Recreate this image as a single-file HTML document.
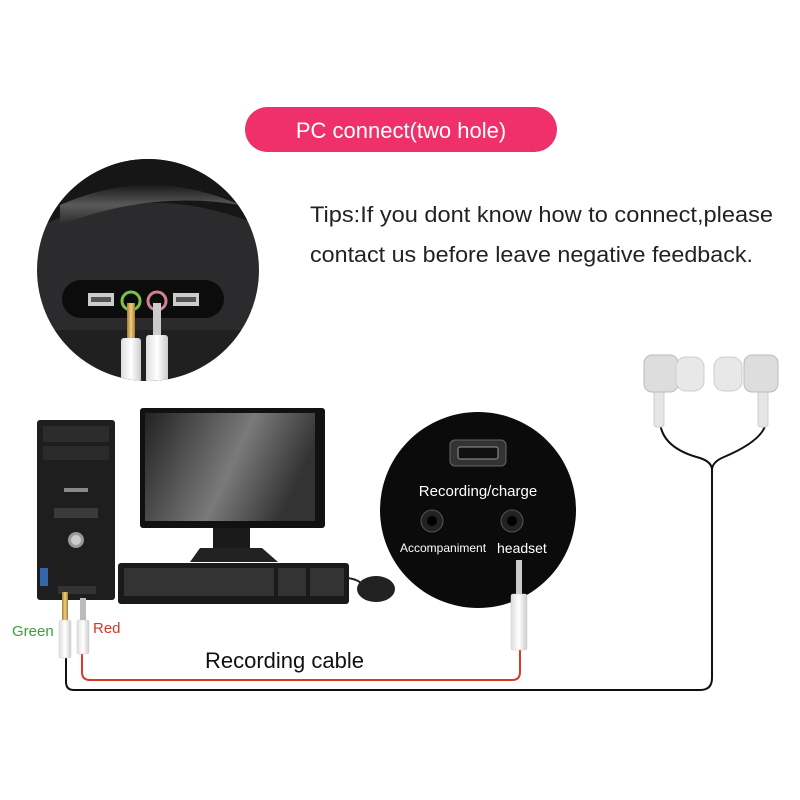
<!DOCTYPE html>
<html><head><meta charset="utf-8"><style>
html,body{margin:0;padding:0;background:#fff;}
svg{display:block;}
text{font-family:"Liberation Sans",sans-serif;}
</style></head><body>
<svg width="800" height="800" viewBox="0 0 800 800" xmlns="http://www.w3.org/2000/svg">
<defs>
<linearGradient id="scr" x1="0" y1="0" x2="1" y2="0.3"><stop offset="0" stop-color="#222"/><stop offset="0.6" stop-color="#7a7a7a"/><stop offset="1" stop-color="#333"/></linearGradient>
<clipPath id="cc"><circle cx="148" cy="270" r="111"/></clipPath>
<linearGradient id="plug" x1="0" x2="1"><stop offset="0" stop-color="#ddd"/><stop offset="0.5" stop-color="#fff"/><stop offset="1" stop-color="#ccc"/></linearGradient>
<linearGradient id="gold" x1="0" x2="1"><stop offset="0" stop-color="#a87a30"/><stop offset="0.5" stop-color="#f0d080"/><stop offset="1" stop-color="#a87a30"/></linearGradient>
<linearGradient id="band" x1="0" y1="0" x2="0" y2="1"><stop offset="0" stop-color="#1a1a1a"/><stop offset="0.5" stop-color="#5a5a5a"/><stop offset="1" stop-color="#2a2a2a"/></linearGradient>
</defs>
<rect width="800" height="800" fill="#fff"/>
<rect x="245" y="107" width="312" height="45" rx="22.5" fill="#f0306a"/>
<text x="401" y="138" font-size="22" fill="#fff" text-anchor="middle">PC connect(two hole)</text>
<text x="310" y="222" font-size="22" fill="#222" textLength="463" lengthAdjust="spacingAndGlyphs">Tips:If you dont know how to connect,please</text>
<text x="310" y="262" font-size="22" fill="#222" textLength="443" lengthAdjust="spacingAndGlyphs">contact us before leave negative feedback.</text>
<!-- circle photo -->
<g clip-path="url(#cc)">
<rect x="30" y="150" width="240" height="240" fill="#2b2b2d"/>
<path d="M30 150 H270 V230 Q150 175 30 230Z" fill="#161616"/>
<path d="M60 205 Q150 165 240 205 Q150 190 60 225Z" fill="url(#band)"/>
<rect x="30" y="330" width="240" height="60" fill="#202020"/>
<rect x="62" y="280" width="162" height="38" rx="19" fill="#0c0c0c"/>
<rect x="88" y="293" width="26" height="13" fill="#ccc"/><rect x="91" y="297" width="20" height="5" fill="#555"/>
<rect x="173" y="293" width="26" height="13" fill="#ccc"/><rect x="176" y="297" width="20" height="5" fill="#555"/>
<circle cx="131" cy="301" r="9" fill="none" stroke="#7ac24a" stroke-width="3"/>
<circle cx="157" cy="301" r="9" fill="none" stroke="#d08090" stroke-width="3"/>
<rect x="127" y="303" width="8" height="40" fill="url(#gold)"/>
<rect x="121" y="338" width="20" height="60" rx="3" fill="url(#plug)"/>
<rect x="153" y="303" width="8" height="36" fill="#ccc"/>
<rect x="146" y="335" width="22" height="60" rx="3" fill="url(#plug)"/>
</g>
<!-- cables -->
<path d="M82 650 V672 Q82 680 90 680 H512 Q520 680 520 672 V645" fill="none" stroke="#d83a2a" stroke-width="2"/>
<path d="M66 655 V682 Q66 690 74 690 H700 Q712 690 712 678 V470 Q712 462 700 458 Q662 448 660 422" fill="none" stroke="#111" stroke-width="2"/>
<path d="M712 470 Q712 462 724 457 Q764 440 766 422" fill="none" stroke="#111" stroke-width="2"/>
<!-- tower -->
<rect x="37" y="420" width="78" height="180" rx="3" fill="#1e1e1e"/>
<rect x="43" y="426" width="66" height="16" fill="#2c2c2c"/>
<rect x="43" y="446" width="66" height="14" fill="#2a2a2a"/>
<rect x="64" y="488" width="24" height="4" fill="#888"/>
<rect x="54" y="508" width="44" height="10" fill="#3a3a3a"/>
<circle cx="76" cy="540" r="8" fill="#999"/><circle cx="76" cy="540" r="5" fill="#ccc"/>
<rect x="40" y="568" width="8" height="18" fill="#36a"/>
<rect x="58" y="586" width="38" height="8" fill="#333"/>
<rect x="62" y="592" width="6" height="30" fill="url(#gold)"/>
<rect x="59" y="620" width="12" height="38" rx="2" fill="url(#plug)" stroke="#ccc" stroke-width="0.5"/>
<rect x="80" y="598" width="6" height="24" fill="#bbb"/>
<rect x="77" y="620" width="12" height="34" rx="2" fill="url(#plug)" stroke="#ccc" stroke-width="0.5"/>
<text x="12" y="636" font-size="15" fill="#3aa03a">Green</text>
<text x="93" y="633" font-size="15" fill="#d0392a">Red</text>
<text x="205" y="668" font-size="22" fill="#111">Recording cable</text>
<!-- monitor -->
<rect x="140" y="408" width="185" height="120" rx="3" fill="#111"/>
<rect x="145" y="413" width="170" height="108" fill="url(#scr)"/>
<rect x="213" y="528" width="37" height="20" fill="#1a1a1a"/>
<path d="M190 562 L200 548 H262 L278 562Z" fill="#222"/>
<rect x="118" y="563" width="231" height="41" rx="3" fill="#1a1a1a"/>
<g fill="#333"><rect x="124" y="568" width="150" height="28"/><rect x="278" y="568" width="28" height="28"/><rect x="310" y="568" width="34" height="28"/></g>
<path d="M348 578 Q360 580 362 585" stroke="#222" fill="none" stroke-width="2"/>
<ellipse cx="376" cy="589" rx="19" ry="13" fill="#222"/>
<!-- device -->
<circle cx="478" cy="510" r="98" fill="#0b0b0b"/>
<rect x="450" y="440" width="56" height="26" rx="5" fill="#333" stroke="#666"/>
<rect x="458" y="447" width="40" height="12" rx="2" fill="#111" stroke="#999"/>
<text x="478" y="496" font-size="15" fill="#fff" text-anchor="middle">Recording/charge</text>
<circle cx="432" cy="521" r="11" fill="#222" stroke="#555"/><circle cx="432" cy="521" r="5" fill="#000"/>
<circle cx="512" cy="521" r="11" fill="#222" stroke="#555"/><circle cx="512" cy="521" r="5" fill="#000"/>
<text x="400" y="552" font-size="12" fill="#fff" font-family="Liberation Serif">Accompaniment</text>
<text x="497" y="553" font-size="14" fill="#fff" font-family="Liberation Serif">headset</text>
<rect x="516" y="560" width="6" height="36" fill="#ccc"/>
<rect x="511" y="594" width="16" height="56" rx="2" fill="url(#plug)" stroke="#ccc" stroke-width="0.5"/>
<!-- earphones -->
<rect x="654" y="385" width="10" height="42" rx="3" fill="#e6e6e6" stroke="#ccc"/>
<rect x="758" y="385" width="10" height="42" rx="3" fill="#e6e6e6" stroke="#ccc"/>
<rect x="644" y="355" width="34" height="37" rx="8" fill="#ddd" stroke="#bbb"/>
<rect x="676" y="357" width="28" height="34" rx="10" fill="#e8e8e8" stroke="#ccc"/>
<rect x="744" y="355" width="34" height="37" rx="8" fill="#ddd" stroke="#bbb"/>
<rect x="714" y="357" width="28" height="34" rx="10" fill="#e8e8e8" stroke="#ccc"/>
</svg>
</body></html>
